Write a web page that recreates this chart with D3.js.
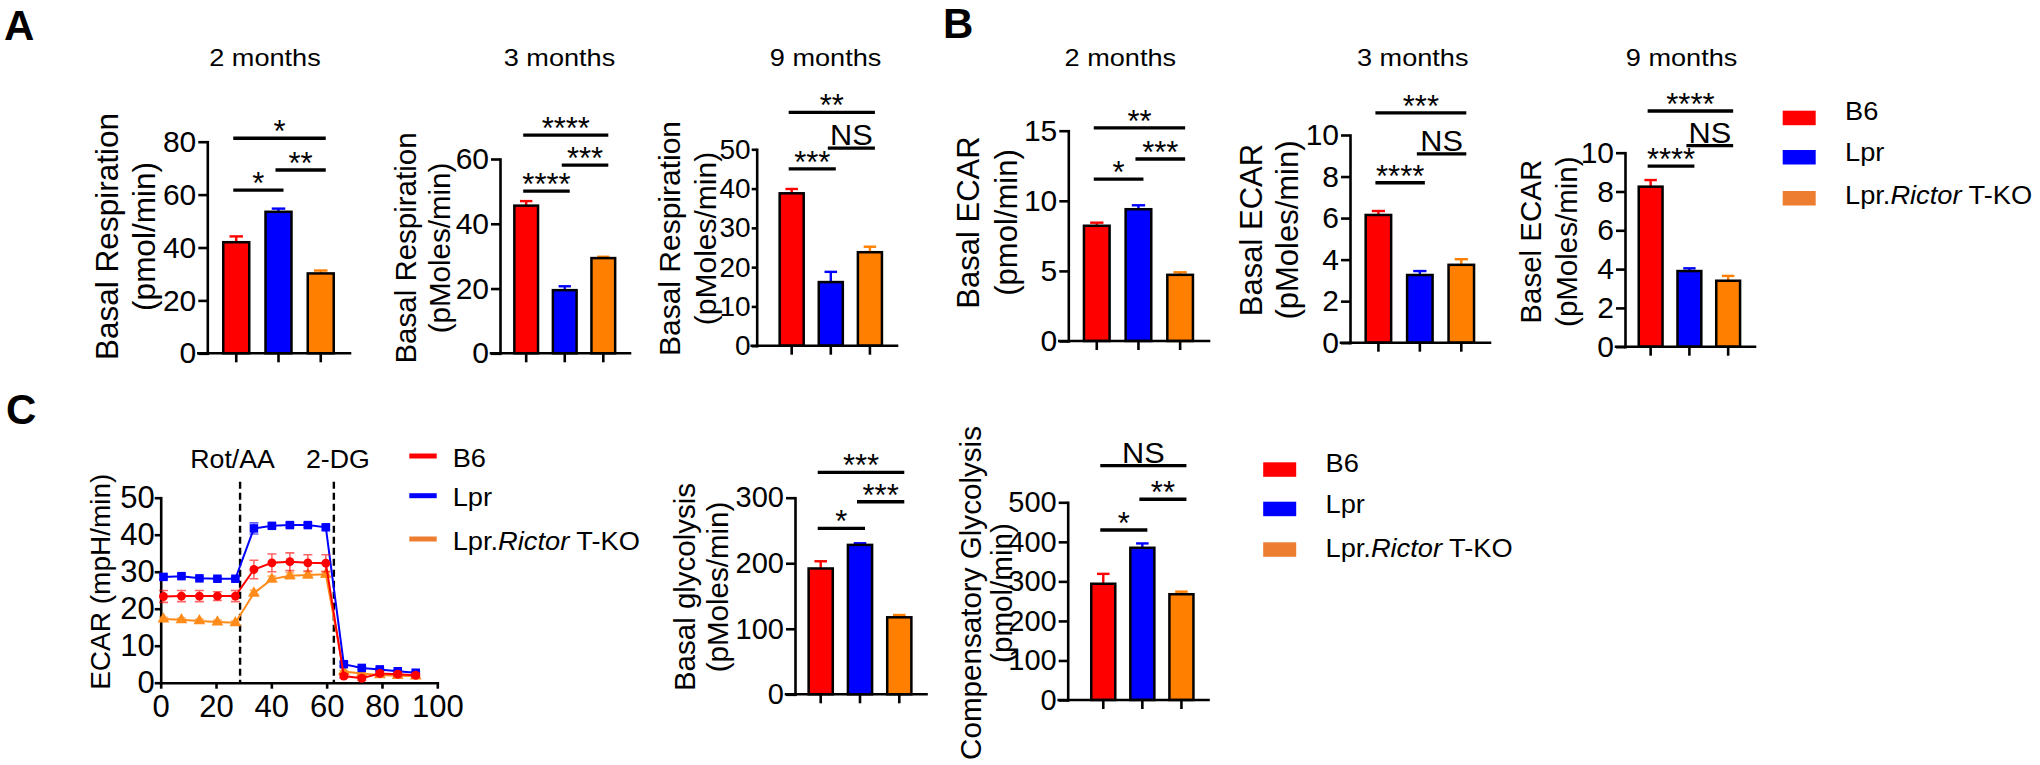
<!DOCTYPE html>
<html>
<head>
<meta charset="utf-8">
<script src="https://cdn.jsdelivr.net/npm/d3@7"></script>
<style>
  body { margin: 0; background: #fff; }
  text { font-family: "Liberation Sans", Arial, sans-serif; fill: #000; }
</style>
</head>
<body>
<div id="fig"></div>
<script>
const W = 2040
const H = 765

// groups shown in every bar panel
const groups = ["B6", "Lpr", "Lpr.Rictor T-KO"]
const barColors = ["#FF0000", "#0000FF", "#FF8000"]
const legendColors = ["#FF0000", "#0000FF", "#ED7D31"]
const lineColors = ["#FF0000", "#0000FF", "#FF8C1A"]

// --- A: basal respiration (mean, SEM) ---
const resp2mMean = [42.0, 53.5, 30.2]
const resp2mSem = [2.2, 1.2, 1.1]
const resp3mMean = [45.6, 19.5, 29.4]
const resp3mSem = [1.4, 1.2, 0.4]
const resp9mMean = [38.8, 16.2, 23.8]
const resp9mSem = [1.1, 2.6, 1.4]

// --- B: basal ECAR ---
const ecar2mMean = [8.22, 9.40, 4.72]
const ecar2mSem = [0.22, 0.28, 0.18]
const ecar3mMean = [6.15, 3.26, 3.75]
const ecar3mSem = [0.19, 0.19, 0.27]
const ecar9mMean = [8.25, 3.90, 3.40]
const ecar9mSem = [0.34, 0.14, 0.25]

// --- C: glycolysis bars ---
const glycoMean = [192, 228, 117.5]
const glycoSem = [11, 2.5, 3.5]
const compMean = [294, 385, 267.5]
const compSem = [25, 11, 6.5]

// significance brackets: [from group, to group, level (data units), label]
const resp2mSig = [[0, 2, 81.3, "*"], [1, 2, 69.3, "**"], [0, 1, 61.7, "*"]]
const resp3mSig = [[0, 2, 67.4, "****"], [1, 2, 58.1, "***"], [0, 1, 50.1, "****"]]
const resp9mSig = [[0, 2, 59.4, "**"], [1, 2, 50.3, "NS"], [0, 1, 45.0, "***"]]
const ecar2mSig = [[0, 2, 15.2, "**"], [1, 2, 12.98, "***"], [0, 1, 11.55, "*"]]
const ecar3mSig = [[0, 2, 11.07, "***"], [1, 2, 9.09, "NS"], [0, 1, 7.70, "****"]]
const ecar9mSig = [[0, 2, 12.15, "****"], [1, 2, 10.36, "NS"], [0, 1, 9.31, "****"]]
const glycoSig = [[0, 2, 338.6, "***"], [1, 2, 293.8, "***"], [0, 1, 253.2, "*"]]
const compSig = [[0, 2, 592.7, "NS"], [1, 2, 507.7, "**"], [0, 1, 430, "*"]]

// --- C: ECAR time course ---
const timeMin = [1, 7.5, 14, 20.5, 27, 33.7, 40.2, 46.7, 53.2, 59.7, 66.2, 72.7, 79.2, 85.7, 92.2]
const ecarB6 = [23.3, 23.4, 23.4, 23.4, 23.4, 30.6, 32.4, 32.7, 32.4, 32.3, 1.8, 1.2, 2.5, 2.3, 2.0]
const ecarB6Sem = [1.6, 1.5, 1.5, 1.2, 1.5, 2.5, 2.4, 2.4, 2.2, 2.3, 0.6, 0.6, 0.6, 0.6, 0.6]
const ecarLpr = [28.6, 28.8, 28.2, 28.1, 28.1, 41.7, 42.4, 42.6, 42.6, 42.0, 5.0, 4.0, 3.6, 3.1, 2.7]
const ecarLprSem = [0.6, 0.6, 0.5, 0.5, 0.5, 1.5, 0.6, 0.6, 0.6, 0.6, 0.5, 0.4, 0.4, 0.4, 0.4]
const ecarKO = [17.2, 17.0, 16.7, 16.4, 16.2, 24.2, 28.0, 28.9, 29.1, 29.3, 3.0, 2.5, 2.1, 1.9, 1.8]
const ecarKOSem = [0.5, 0.5, 0.5, 0.5, 0.5, 0.8, 0.8, 0.8, 0.8, 0.8, 0.3, 0.3, 0.3, 0.3, 0.3]
const treatments = [{ t: 28.7, name: "Rot/AA" }, { t: 62.6, name: "2-DG" }]

const svg = d3.select("#fig").append("svg")
  .attr("width", W)
  .attr("height", H)

// text helper: optional rotation and horizontal stretch
const txt = (g, x, y, s, size, o = {}) => {
  let tf = `translate(${x},${y})`
  if (o.rot) tf += " rotate(-90)"
  if (o.sx) tf += ` scale(${o.sx},1)`
  const t = g.append("text")
    .attr("transform", tf)
    .attr("text-anchor", o.anchor || "start")
    .attr("font-size", size)
  if (o.bold) t.attr("font-weight", "bold")
  if (s !== null) t.text(s)
  return t
}

// "Lpr.Rictor T-KO" with italic gene name
const groupText = (t, name) => {
  if (name === "Lpr.Rictor T-KO") {
    t.append("tspan").text("Lpr.")
    t.append("tspan").attr("font-style", "italic").text("Rictor")
    t.append("tspan").text(" T-KO")
  } else {
    t.text(name)
  }
}

const styleAxis = (ax, size) => {
  ax.selectAll(".domain").attr("stroke-width", 2.6).attr("stroke-linecap", "square")
  ax.selectAll(".tick line").attr("stroke-width", 2.6)
  ax.selectAll(".tick text").attr("font-size", size).attr("font-family", null).attr("fill", "#000")
}

// --- bar panels ---
const barPanels = [
  { means: resp2mMean, sems: resp2mSem, sig: resp2mSig, max: 80, step: 20,
    x0: 207.3, r0: 207, r1: 350, yB: 353.3, yT: 141.7, title: "2 months", titleX: 265,
    ylab: ["Basal Respiration", "(pmol/min)"], labX: [118, 155], labY: 236.5, labSize: 31.5, tick: 30 },
  { means: resp3mMean, sems: resp3mSem, sig: resp3mSig, max: 60, step: 20,
    x0: 500, r0: 499.5, r1: 630, yB: 353.3, yT: 159, title: "3 months", titleX: 559.5,
    ylab: ["Basal Respiration", "(pMoles/min)"], labX: [416, 449.5], labY: 248, labSize: 29.5, tick: 30 },
  { means: resp9mMean, sems: resp9mSem, sig: resp9mSig, max: 50, step: 10,
    x0: 756.7, r0: 764.6, r1: 897, yB: 345.7, yT: 149.3, title: "9 months", titleX: 825.6,
    ylab: ["Basal Respiration", "(pMoles/min)"], labX: [680, 716], labY: 238.5, labSize: 30, tick: 28,
    tickLen: 5, tickPad: 1 },
  { means: ecar2mMean, sems: ecar2mSem, sig: ecar2mSig, max: 15, step: 5,
    x0: 1068.3, r0: 1067.9, r1: 1209, yB: 341, yT: 130.7, title: "2 months", titleX: 1120.3,
    ylab: ["Basal ECAR", "(pmol/min)"], labX: [979, 1017.3], labY: 222.5, labSize: 31, tick: 30 },
  { means: ecar3mMean, sems: ecar3mSem, sig: ecar3mSig, max: 10, step: 2,
    x0: 1350, r0: 1349.7, r1: 1490, yB: 342.7, yT: 135, title: "3 months", titleX: 1412.7,
    ylab: ["Basal ECAR", "(pMoles/min)"], labX: [1261.5, 1297.6], labY: 230, labSize: 31, tick: 30 },
  { means: ecar9mMean, sems: ecar9mSem, sig: ecar9mSig, max: 10, step: 2,
    x0: 1625, r0: 1623.8, r1: 1755, yB: 346.7, yT: 152.7, title: "9 months", titleX: 1681.6,
    ylab: ["Basel ECAR", "(pMoles/min)"], labX: [1541, 1576.5], labY: 241.7, labSize: 29.5, tick: 30 },
  { means: glycoMean, sems: glycoSem, sig: glycoSig, max: 300, step: 100,
    x0: 795, r0: 793.5, r1: 926.5, yB: 694.3, yT: 497.7, title: null,
    ylab: ["Basal glycolysis", "(pMoles/min)"], labX: [695, 728.2], labY: 587, labSize: 29.5, tick: 29 },
  { means: compMean, sems: compSem, sig: compSig, max: 500, step: 100,
    x0: 1067.7, r0: 1076.2, r1: 1208.5, yB: 700, yT: 502.3, title: null,
    ylab: ["Compensatory Glycolysis", "(pmol/min)"], labX: [981, 1011.6], labY: 593, labSize: 29.6, tick: 29 }
]

const drawBarPanel = p => {
  const g = svg.append("g")
  const x = d3.scaleBand().domain(groups).range([p.r0, p.r1]).paddingInner(0.385).paddingOuter(0.385)
  const y = d3.scaleLinear().domain([0, p.max]).range([p.yB, p.yT])
  const bw = x.bandwidth()
  const cx = i => x(groups[i]) + bw / 2

  // error bars (upper only), behind the bars
  const err = g.append("g")
  p.means.forEach((m, i) => {
    err.append("line")
      .attr("x1", cx(i)).attr("x2", cx(i))
      .attr("y1", y(m)).attr("y2", y(m + p.sems[i]))
      .attr("stroke", barColors[i]).attr("stroke-width", 2.4)
    err.append("line")
      .attr("x1", cx(i) - bw * 0.26).attr("x2", cx(i) + bw * 0.26)
      .attr("y1", y(m + p.sems[i])).attr("y2", y(m + p.sems[i]))
      .attr("stroke", barColors[i]).attr("stroke-width", 2.4)
  })

  g.selectAll("rect.bar")
    .data(p.means)
    .join("rect")
      .attr("class", "bar")
      .attr("x", (d, i) => x(groups[i]))
      .attr("y", d => y(d))
      .attr("width", bw)
      .attr("height", d => p.yB - y(d))
      .attr("fill", (d, i) => barColors[i])
      .attr("stroke", "#000")
      .attr("stroke-width", 2.5)

  // y axis
  const ay = g.append("g")
    .attr("transform", `translate(${p.x0},0)`)
    .call(d3.axisLeft(y)
      .tickValues(d3.range(0, p.max + p.step / 2, p.step))
      .tickSize(p.tickLen || 9).tickSizeOuter(0).tickPadding(p.tickPad ?? 2))
  styleAxis(ay, p.tick)

  // x axis, no labels
  const ax = g.append("g")
    .attr("transform", `translate(0,${p.yB})`)
    .call(d3.axisBottom(x).tickSize(9).tickSizeOuter(0).tickFormat(""))
  ax.select(".domain").attr("d", `M${p.x0 - (p.tickLen || 9)},0H${p.r1}`)
  styleAxis(ax, p.tick)

  // significance brackets
  p.sig.forEach(([a, b, lvl, lab]) => {
    const x1 = cx(a) - 3
    const x2 = cx(b) + 5
    const yy = y(lvl)
    g.append("line")
      .attr("x1", x1).attr("x2", x2)
      .attr("y1", yy).attr("y2", yy)
      .attr("stroke", "#000").attr("stroke-width", 3.3)
    if (lab === "NS") {
      txt(g, (x1 + x2) / 2, yy - 3, lab, 29.5, { anchor: "middle", sx: 1.04 })
    } else {
      txt(g, (x1 + x2) / 2, yy + 4, lab, 31, { anchor: "middle" })
    }
  })

  // axis title, two lines
  p.ylab.forEach((s, k) => {
    txt(g, p.labX[k], p.labY, s, p.labSize, { rot: true, anchor: "middle" })
  })

  if (p.title) txt(g, p.titleX, 66, p.title, 24, { anchor: "middle", sx: 1.13 })
}

barPanels.forEach(drawBarPanel)

// --- legends with colour boxes ---
const boxLegend = (x, ys, tx, bases) => {
  const g = svg.append("g")
  groups.forEach((name, i) => {
    g.append("rect")
      .attr("x", x).attr("y", ys[i])
      .attr("width", 33).attr("height", 14.5)
      .attr("fill", legendColors[i])
    groupText(txt(g, tx, bases[i], null, 25, { sx: 1.09 }), name)
  })
}
boxLegend(1782.7, [110.7, 150, 191], 1845, [120, 161, 204.3])
boxLegend(1263.2, [462.3, 501.7, 542.3], 1325.5, [471.7, 513.3, 556.7])

// --- panel letters ---
txt(svg, 4, 40, "A", 42, { bold: true })
txt(svg, 943, 38, "B", 42, { bold: true })
txt(svg, 6, 424, "C", 42, { bold: true })

// --- ECAR time course ---
const drawTimeCourse = () => {
  const g = svg.append("g")
  const x = d3.scaleLinear().domain([0, 100]).range([160.7, 437.3])
  const y = d3.scaleLinear().domain([0, 50]).range([682.7, 497.7])

  const ay = g.append("g")
    .attr("transform", `translate(${x(0)},0)`)
    .call(d3.axisLeft(y).tickValues(d3.range(0, 51, 10)).tickSize(6).tickSizeOuter(0).tickPadding(0))
  styleAxis(ay, 31)

  const ax = g.append("g")
    .attr("transform", `translate(0,${y(0)})`)
    .call(d3.axisBottom(x).tickValues(d3.range(0, 101, 20)).tickSize(6).tickSizeOuter(0).tickPadding(6))
  styleAxis(ax, 31)

  // injections
  treatments.forEach((tr, k) => {
    g.append("line")
      .attr("x1", x(tr.t)).attr("x2", x(tr.t))
      .attr("y1", y(54.3)).attr("y2", y(0))
      .attr("stroke", "#000").attr("stroke-width", 2.4)
      .attr("stroke-dasharray", "7,4")
    txt(g, x(tr.t) + (k === 0 ? -7.5 : 4), 468, tr.name, 25, { anchor: "middle", sx: 1.07 })
  })

  const series = [
    { vals: ecarKO, sem: ecarKOSem, c: lineColors[2], sym: d3.symbolTriangle, size: 60 },
    { vals: ecarLpr, sem: ecarLprSem, c: lineColors[1], sym: d3.symbolSquare, size: 72 },
    { vals: ecarB6, sem: ecarB6Sem, c: lineColors[0], sym: d3.symbolCircle, size: 62 }
  ]
  const line = d3.line().x((d, i) => x(timeMin[i])).y(d => y(d))

  series.forEach(s => {
    const sg = g.append("g")
    s.vals.forEach((v, i) => {
      const xx = x(timeMin[i])
      sg.append("path")
        .attr("d", `M${xx},${y(v - s.sem[i])}V${y(v + s.sem[i])}M${xx - 4.5},${y(v - s.sem[i])}h9M${xx - 4.5},${y(v + s.sem[i])}h9`)
        .attr("stroke", s.c).attr("stroke-opacity", 0.6).attr("stroke-width", 1.6).attr("fill", "none")
    })
    sg.append("path")
      .datum(s.vals)
      .attr("d", line)
      .attr("fill", "none")
      .attr("stroke", s.c)
      .attr("stroke-width", 2)
    sg.selectAll("path.pt")
      .data(s.vals)
      .join("path")
        .attr("class", "pt")
        .attr("transform", (d, i) => `translate(${x(timeMin[i])},${y(d)})`)
        .attr("d", d3.symbol().type(s.sym).size(s.size))
        .attr("fill", s.c)
  })

  txt(g, 110, 581.7, "ECAR (mpH/min)", 28, { rot: true, anchor: "middle" })

  // line legend
  const lys = [456, 495.7, 539]
  groups.forEach((name, i) => {
    g.append("line")
      .attr("x1", 409.3).attr("x2", 436.7)
      .attr("y1", lys[i]).attr("y2", lys[i])
      .attr("stroke", legendColors[i]).attr("stroke-width", 5)
    groupText(txt(g, 452.7, lys[i] + 10.5, null, 25, { sx: 1.09 }), name)
  })
}
drawTimeCourse()
</script>
</body>
</html>
